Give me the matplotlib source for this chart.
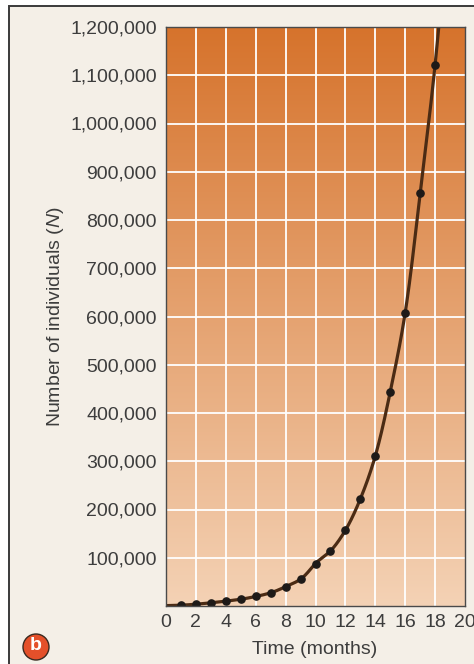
import numpy as np
import matplotlib
matplotlib.use("Agg")
import matplotlib.pyplot as plt
from matplotlib.patches import Rectangle, Circle

# Population counts per month
months = [1, 2, 3, 4, 5, 6, 7, 8, 9, 10, 11, 12, 13, 14, 15, 16, 17, 18]
individuals = [1700, 3700, 6600, 10000, 14000, 19700, 27400, 40000, 55600,
               88000, 114000, 157000, 222000, 311000, 444000, 608000, 855000, 1122000]

x_ticks = list(range(0, 21, 2))
y_ticks = list(range(0, 1200001, 100000))
y_tick_labels = ["" if v == 0 else f"{v:,}" for v in y_ticks]

plt.rcParams["font.family"] = ["Liberation Sans", "DejaVu Sans"]
plt.rcParams["mathtext.fontset"] = "custom"
plt.rcParams["mathtext.rm"] = "Liberation Sans"
plt.rcParams["mathtext.it"] = "Liberation Sans:italic"

W, H = 474, 664
fig = plt.figure(figsize=(W / 100, H / 100), dpi=100)
fig.patch.set_facecolor("white")

# Cream panel with a dark frame running off the right and bottom edges
panel = Rectangle((8.5 / W, -0.05), 1.2, 1 - 6 / H + 0.05, transform=fig.transFigure,
                  facecolor="#f4efe7", edgecolor="#3a3a3a", linewidth=1.4, zorder=-5)
fig.patches.append(panel)

ax = fig.add_axes([166 / W, 1 - 606 / H, 299 / W, 579 / H])
ax.set_zorder(1)
ax.set_xlim(0, 20)
ax.set_ylim(0, 1200000)

# Vertical orange gradient background
top = np.array([214, 115, 44]) / 255
bot = np.array([244, 210, 181]) / 255
frac = np.linspace(0, 1, 256)[:, None]
grad = (top * (1 - frac) + bot * frac)[:, None, :]
ax.imshow(grad, extent=[0, 20, 0, 1200000], aspect="auto", origin="upper",
          zorder=0, interpolation="bilinear")

for xv in x_ticks[1:-1]:
    ax.axvline(xv, color="white", lw=1.3, zorder=1)
for yv in y_ticks[1:-1]:
    ax.axhline(yv, color="white", lw=1.3, zorder=1)

# Smooth growth curve: Catmull-Rom spline through the data in log space
t = np.array(months, dtype=float)
logn = np.log(np.array(individuals, dtype=float))
t_ext = np.concatenate([[t[0] - 1], t, [t[-1] + 1]])
l_ext = np.concatenate([[2 * logn[0] - logn[1]], logn, [2 * logn[-1] - logn[-2]]])
t_ext2 = np.concatenate([[t_ext[0] - 1], t_ext, [t_ext[-1] + 1]])
l_ext2 = np.concatenate([[2 * l_ext[0] - l_ext[1]], l_ext, [2 * l_ext[-1] - l_ext[-2]]])
cx, cy = [], []
for i in range(1, len(t_ext2) - 2):
    p0, p1, p2, p3 = l_ext2[i - 1], l_ext2[i], l_ext2[i + 1], l_ext2[i + 2]
    s = np.linspace(0, 1, 30)
    val = 0.5 * ((2 * p1) + (-p0 + p2) * s + (2 * p0 - 5 * p1 + 4 * p2 - p3) * s ** 2
                 + (-p0 + 3 * p1 - 3 * p2 + p3) * s ** 3)
    cx.append(t_ext2[i] + s * (t_ext2[i + 1] - t_ext2[i]))
    cy.append(val)
cx = np.concatenate(cx)
cy = np.exp(np.concatenate(cy))
mask = cx >= 0
ax.plot(cx[mask], cy[mask], color="#4b2b14", lw=2.3, zorder=3, solid_capstyle="round")
ax.plot(months, individuals, "o", color="#1e1a18", ms=5.2, zorder=4)

ax.set_xticks(x_ticks)
ax.set_yticks(y_ticks)
ax.set_yticklabels(y_tick_labels)
ax.tick_params(length=0, labelsize=14, labelcolor="#3d3d3d")
ax.tick_params(axis="x", pad=6)
ax.tick_params(axis="y", pad=6.5)
for sp in ax.spines.values():
    sp.set_color("#4a4a4a")
    sp.set_linewidth(1.0)
    sp.set_zorder(5)

fig.text(55 / W, 1 - 317 / H, r"Number of individuals ($N$)", rotation=90,
         ha="center", va="center", fontsize=14, color="#3d3d3d")
fig.text(315 / W, 1 - 650 / H, "Time (months)", ha="center", va="center",
         fontsize=14, color="#3d3d3d")

# Panel badge
badge = Circle((0.36, (H - 647) / 100), 0.13, transform=fig.dpi_scale_trans,
               facecolor="#e4502a", edgecolor="#3a2a20", linewidth=1.0, zorder=5)
fig.patches.append(badge)
fig.text(36 / W, 1 - 646 / H, "b", ha="center", va="center", fontsize=14,
         fontweight="bold", color="white", zorder=6)

fig.savefig("out.png", dpi=100)
